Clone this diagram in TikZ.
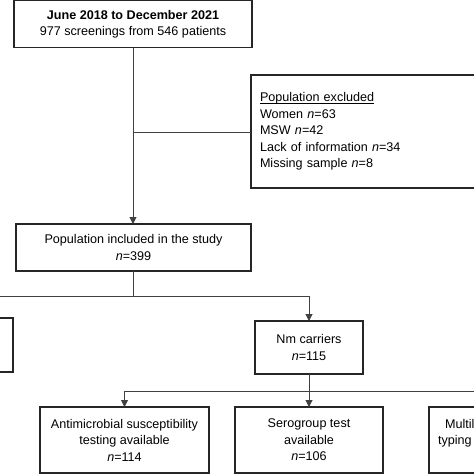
\documentclass[tikz,border=0pt]{standalone}
\usepackage{fontspec}
\setmainfont{Liberation Sans}
\usetikzlibrary{arrows.meta}
\newcommand{\ulinetext}[1]{{\setbox0\hbox{#1}\rlap{\rule[-2pt]{\wd0}{0.7pt}}\box0}}
\begin{document}
\begin{tikzpicture}[x=1pt,y=-1pt,
  box/.style={draw=black!85, line width=1.2pt, inner sep=0pt, outer sep=0pt,
    anchor=north west, align=center, font=\fontsize{12.6}{16.5}\selectfont},
  conn/.style={draw=black!75, line width=1pt},
  arr/.style={conn, -{Triangle[length=7pt,width=7pt]}}]
\useasboundingbox (0,0) rectangle (474,474);
\clip (0,0) rectangle (474,474);
\coordinate (y1) at (0,132);
\coordinate (y2) at (0,296);
\coordinate (y3) at (0,391);
\node[box, minimum width=238pt, minimum height=47pt] (top) at (14,0.8)
  {\textbf{June 2018 to December 2021}\\977 screenings from 546 patients};
\node[box, align=left, text width=250pt, inner xsep=9pt, minimum height=113pt] (excl) at (251,75)
  {\ulinetext{Population excluded}\\Women \textit{n}=63\\MSW \textit{n}=42\\Lack of information \textit{n}=34\\Missing sample \textit{n}=8};
\node[box, minimum width=235pt, minimum height=47pt] (pop) at (16,224)
  {Population included in the study\\\textit{n}=399};
\node[box, anchor=north east, minimum width=120pt, minimum height=54pt] (left) at (13,318) {};
\node[box, minimum width=108pt, minimum height=53pt] (nm) at (255,321)
  {Nm carriers\\\textit{n}=115};
\node[box, minimum width=169pt, minimum height=66pt] (b1) at (40,407)
  {Antimicrobial susceptibility\\testing available\\\textit{n}=114};
\node[box, minimum width=148pt, minimum height=66pt] (b2) at (235,407)
  {Serogroup test\\available\\\textit{n}=106};
\node[box, align=left, text width=150pt, inner xsep=9pt, minimum height=66pt] (b3) at (429,407)
  {\hspace*{7pt}Multilocus sequence\\typing available\\\phantom{n}};
\draw[arr] (top.south) -- (top.south |- pop.north);
\draw[conn] (top.south |- y1) -- (excl.west |- y1);
\draw[conn] (pop.south) -- (pop.south |- y2);
\draw[arr] (pop.south |- y2) -| (left.north);
\draw[arr] (pop.south |- y2) -| (nm.north);
\draw[conn] (nm.south) -- (nm.south |- y3);
\draw[arr] (nm.south |- y3) -| (b1.north);
\draw[arr] (nm.south |- y3) -- (nm.south |- b2.north);
\draw[arr] (nm.south |- y3) -| (b3.north);
\end{tikzpicture}
\end{document}
